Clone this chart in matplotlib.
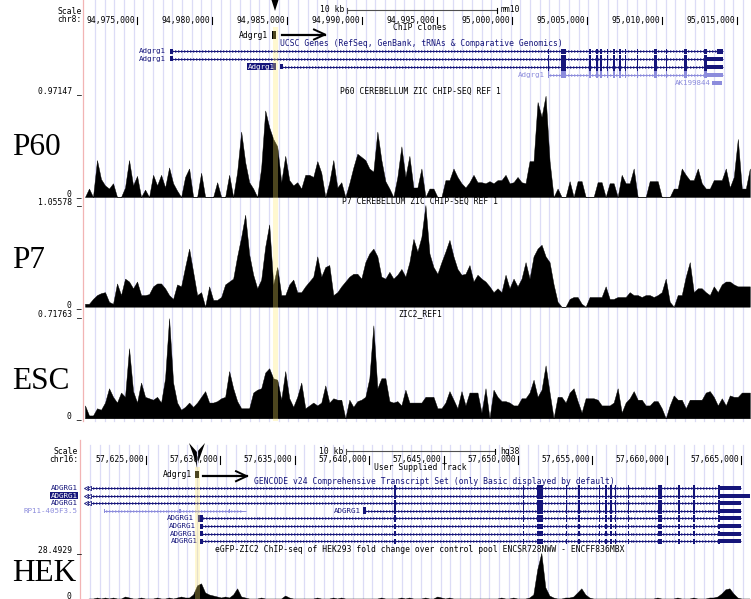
import numpy as np
import matplotlib
matplotlib.use("Agg")
import matplotlib.pyplot as plt
from matplotlib.patches import Polygon, Rectangle

# ---------------- data ----------------
mm10_view = (94971400, 95015933)
hg38_view = (57620766, 57665659)

mm10_ticks = [94975000, 94980000, 94985000, 94990000, 94995000,
              95000000, 95005000, 95010000, 95015000]
hg38_ticks = [57625000, 57630000, 57635000, 57640000, 57645000,
              57650000, 57655000, 57660000, 57665000]

mm10_bin_start, mm10_bin_bp = 94971533, 267
hg38_bin_start, hg38_bin_bp = 57620901, 269

track_names = ["P60", "P7", "ESC", "HEK"]
track_titles = ["P60 CEREBELLUM ZIC CHIP-SEQ REF 1",
                "P7 CEREBELLUM ZIC CHIP-SEQ REF 1",
                "ZIC2_REF1",
                "eGFP-ZIC2 ChIP-seq of HEK293 fold change over control pool ENCSR728NWW - ENCFF836MBX"]
track_max = [0.97147, 1.05578, 0.71763, 28.4929]
track_max_labels = ["0.97147", "1.05578", "0.71763", "28.4929"]

p60_signal = [0, 0.08, 0, 0.35, 0.17, 0.11, 0.08, 0.13, 0, 0,
              0.09, 0.35, 0.11, 0.20, 0, 0.07, 0, 0.21, 0.11, 0.21,
              0.09, 0.28, 0.13, 0.06, 0, 0.19, 0.27, 0, 0, 0.23,
              0, 0, 0, 0.14, 0, 0, 0.21, 0, 0.24, 0.62,
              0.33, 0.14, 0.08, 0, 0.28, 0.82, 0.66, 0.55, 0.48, 0.14,
              0.39, 0.16, 0.11, 0.14, 0.08, 0.21, 0.21, 0.19, 0.34, 0.23,
              0, 0.14, 0.35, 0.09, 0.14, 0, 0.13, 0.28, 0.41, 0.38,
              0.35, 0.27, 0.24, 0.62, 0.35, 0.15, 0.08, 0, 0.19, 0.48,
              0.19, 0.39, 0.09, 0.09, 0.27, 0, 0.08, 0.08, 0, 0,
              0.16, 0.16, 0.27, 0.19, 0.13, 0.09, 0.14, 0.21, 0.14, 0.14,
              0.13, 0.15, 0.13, 0.16, 0.16, 0.21, 0.13, 0.14, 0.19, 0.14,
              0.13, 0.34, 0.34, 0.90, 0.76, 0.96, 0.34, 0, 0.08, 0,
              0, 0.15, 0, 0.15, 0.15, 0, 0, 0, 0.14, 0.14,
              0, 0.13, 0.13, 0, 0.21, 0.13, 0.13, 0.27, 0, 0,
              0, 0.15, 0.15, 0.15, 0, 0, 0, 0.08, 0.08, 0.27,
              0.21, 0.16, 0.16, 0.27, 0.13, 0.08, 0.08, 0.16, 0.16, 0.16,
              0.27, 0.09, 0.19, 0.55, 0.08, 0.08, 0.27]

p7_signal = [0.03, 0.03, 0.08, 0.12, 0.14, 0.15, 0.05, 0.03, 0.24, 0.12,
             0.29, 0.26, 0.19, 0.26, 0.12, 0.12, 0.13, 0.21, 0.24, 0.24,
             0.19, 0.12, 0.08, 0.23, 0.21, 0.41, 0.60, 0.36, 0.12, 0.15,
             0, 0.21, 0.07, 0.07, 0.10, 0.23, 0.26, 0.29, 0.52, 0.72,
             0.95, 0.54, 0.33, 0.19, 0.28, 0.62, 0.85, 0.23, 0.41, 0.12,
             0.12, 0.23, 0.28, 0.15, 0.15, 0.21, 0.26, 0.31, 0.52, 0.31,
             0.41, 0.43, 0.12, 0.15, 0.21, 0.26, 0.31, 0.34, 0.34, 0.29,
             0.46, 0.55, 0.60, 0.52, 0.31, 0.29, 0.36, 0.29, 0.33, 0.39,
             0.31, 0.46, 0.70, 0.57, 0.72, 1.05, 0.55, 0.41, 0.34, 0.46,
             0.57, 0.69, 0.52, 0.39, 0.33, 0.34, 0.43, 0.26, 0.33, 0.29,
             0.26, 0.21, 0.15, 0.19, 0.15, 0.33, 0.19, 0.29, 0.21, 0.29,
             0.46, 0.29, 0.52, 0.60, 0.64, 0.52, 0.46, 0.23, 0.05, 0,
             0, 0.08, 0.10, 0.10, 0.03, 0, 0.10, 0.10, 0.10, 0.10,
             0.21, 0.08, 0.08, 0.10, 0.10, 0.10, 0.15, 0.12, 0.12, 0.10,
             0.12, 0.12, 0.10, 0.12, 0.15, 0.29, 0.05, 0, 0.12, 0.12,
             0.31, 0.46, 0.15, 0.19, 0.19, 0.15, 0.12, 0.21, 0.15, 0.23,
             0.26, 0.26, 0.23, 0.21, 0.21, 0.21, 0.21]

esc_signal = [0.09, 0.02, 0.02, 0.07, 0.06, 0.11, 0.21, 0.15, 0.11, 0.18,
              0.15, 0.49, 0.19, 0.11, 0.25, 0.15, 0.14, 0.13, 0.15, 0.11,
              0.28, 0.70, 0.25, 0.11, 0.06, 0.08, 0.11, 0.08, 0.11, 0.15,
              0.19, 0.11, 0.11, 0.12, 0.14, 0.15, 0.33, 0.21, 0.12, 0.07,
              0.07, 0.07, 0.18, 0.20, 0.21, 0.32, 0.35, 0.28, 0.27, 0.13,
              0.33, 0.14, 0.08, 0.15, 0.25, 0.07, 0.09, 0.11, 0.09, 0.11,
              0.23, 0.11, 0.14, 0.13, 0.13, 0, 0.13, 0.08, 0.12, 0.13,
              0.15, 0.28, 0.65, 0.21, 0.28, 0.28, 0.12, 0.11, 0.12, 0.09,
              0.20, 0.11, 0.11, 0.11, 0.11, 0.15, 0.15, 0.15, 0.07, 0.07,
              0.11, 0.19, 0.13, 0.07, 0.19, 0.09, 0.18, 0.18, 0.18, 0.04,
              0.21, 0, 0.20, 0.15, 0.12, 0.12, 0.11, 0.09, 0.09, 0.14,
              0.14, 0.18, 0.27, 0.15, 0.20, 0.37, 0.18, 0, 0.15, 0.15,
              0.11, 0.18, 0.21, 0.12, 0.04, 0.14, 0.14, 0.14, 0.13, 0.09,
              0.09, 0.09, 0.11, 0.21, 0.04, 0.11, 0.14, 0.19, 0.13, 0.13,
              0.09, 0.09, 0.12, 0.12, 0.07, 0, 0.09, 0.16, 0.13, 0.13,
              0.07, 0.13, 0.13, 0.13, 0.13, 0.18, 0.19, 0.15, 0.09, 0.14,
              0.09, 0.16, 0.15, 0.15, 0.18, 0.18, 0.18]

hek_signal = [0, 0.6, 0.6, 1.2, 0.6, 1.2, 0.6, 1.2, 0.6, 0.6,
              1.8, 1.2, 0.6, 0.6, 1.2, 0.6, 0.6, 0.6, 1.2, 0.6,
              0.6, 1.2, 0.6, 1.2, 1.8, 1.2, 1.2, 3.0, 8.5, 9.7,
              4.2, 3.0, 2.4, 1.8, 1.2, 1.8, 1.2, 3.0, 6.7, 1.8,
              1.2, 0.6, 0.6, 0.6, 1.2, 0.6, 0.6, 0.6, 0.6, 0.6,
              2.4, 1.2, 0.6, 0.6, 0.6, 0.6, 0.6, 0.6, 1.2, 0.6,
              0.6, 0.6, 1.2, 0.6, 1.2, 0.6, 0.6, 0.6, 0.6, 0.6,
              0.6, 0.6, 0.6, 0.6, 1.2, 0.6, 0.6, 0.6, 0.6, 1.2,
              0.6, 1.2, 0.6, 0.6, 0.6, 1.2, 0.6, 0.6, 1.8, 1.2,
              0.6, 1.2, 0.6, 0.6, 0.6, 0.6, 0.6, 0.6, 0.6, 0.6,
              0.6, 0.6, 0.6, 0.6, 1.2, 0.6, 0.6, 1.2, 0.6, 0.6,
              0.6, 1.2, 3.0, 18.2, 27.9, 7.3, 2.4, 1.2, 0.6, 0.6,
              1.2, 1.2, 1.8, 4.2, 6.7, 3.0, 1.2, 0.6, 0.6, 0.6,
              0.6, 0.6, 0.6, 0.6, 0.6, 0.6, 0.6, 0.6, 0.6, 0.6,
              0.6, 0.6, 0.6, 1.2, 0.6, 0.6, 0.6, 0.6, 1.2, 0.6,
              0.6, 0.6, 1.2, 0.6, 0.6, 0.6, 1.2, 1.2, 1.8, 3.6,
              6.1, 6.7, 3.6, 1.2, 0.6, 0.6, 0.6]

# gene models (genomic coordinates)
mm10_exons = [(95002380, 95002480), (95003247, 95003580), (95005150, 95005250),
              (95005600, 95005700), (95005880, 95005980), (95006300, 95006400),
              (95006750, 95006850), (95007150, 95007250), (95007530, 95007630),
              (95008300, 95008400), (95009467, 95009687), (95010263, 95010363),
              (95011467, 95011687), (95012800, 95012980)]
mm10_utr = (95012980, 95014087)
mm10_row1_last = (95013647, 95014087)
mm10_highlight = (94984047, 94984380)
mm10_chip = (94983990, 94984260)
ak199844 = (95013333, 95014000)

hg38_exons = [(57641700, 57641780), (57650320, 57650400), (57651255, 57651658),
              (57653230, 57653310), (57654060, 57654140), (57655420, 57655500),
              (57655870, 57655950), (57656210, 57656290), (57656520, 57656600),
              (57657370, 57657450), (57659427, 57659695), (57660780, 57660860),
              (57661738, 57661893), (57663459, 57663600)]
hg38_utr = (57663600, 57664964)
hg38_utr_long = (57663600, 57665589)
hg38_highlight = (57628293, 57628629)
hg38_chip = (57628293, 57628562)
rp11_span = (57622178, 57631720)
rp11_exons = [(57622178, 57622260), (57627245, 57627325), (57630560, 57630640)]

# ---------------- figure ----------------
W, H = 751, 599
fig = plt.figure(figsize=(W / 100, H / 100), dpi=100)
fig.patch.set_facecolor("white")

MONO = "DejaVu Sans Mono"
FS = 5.8
FS_ROW = 5.4
NAVY = "#15157a"
LIGHT = "#8c8cdc"
GUIDE = "#dcdcf6"


def px_axes(x0, y0, x1, y1, z):
    ax = fig.add_axes([x0 / W, 1 - y1 / H, (x1 - x0) / W, (y1 - y0) / H], zorder=z)
    ax.set_axis_off()
    return ax


ov = px_axes(0, 0, W, H, 0)
ov.set_xlim(0, W)
ov.set_ylim(H, 0)

# guidelines
for gx in np.arange(95, 751, 9.67):
    ov.plot([gx, gx], [0, 421], color=GUIDE, lw=0.9)
for gx in np.arange(90, 751, 9.74):
    ov.plot([gx, gx], [445, 599], color=GUIDE, lw=0.9)
ov.plot([83, 83], [0, 421], color="#f2b4b4", lw=0.9)
ov.plot([80, 80], [440, 599], color="#f2b4b4", lw=0.9)


def txt(ax, x, y, s, ha="left", color="black", size=FS, **kw):
    ax.text(x, y, s, ha=ha, va="center", color=color, fontsize=size,
            family=MONO, **kw)


# header texts
txt(ov, 82, 11, "Scale", ha="right")
txt(ov, 82, 20, "chr8:", ha="right")
txt(ov, 78, 451, "Scale", ha="right")
txt(ov, 78, 459.5, "chr16:", ha="right")
txt(ov, 420, 28, "ChIP clones", ha="center")
txt(ov, 420, 467, "User Supplied Track", ha="center")
txt(ov, 280, 43, "UCSC Genes (RefSeq, GenBank, tRNAs & Comparative Genomics)", color=NAVY)
txt(ov, 254, 481, "GENCODE v24 Comprehensive Transcript Set (only Basic displayed by default)", color=NAVY)

# arrowheads marking the promoter
ov.add_patch(Polygon([(271.5, 0), (278.5, 0), (275, 11)], closed=True, fc="black", ec="none"))
ov.add_patch(Polygon([(189, 443), (197, 452), (205, 443), (198.6, 461), (197, 468), (195.4, 461)],
                     closed=True, fc="black", ec="none"))

# ---------------- signal tracks ----------------
track_data = [p60_signal, p7_signal, esc_signal, hek_signal]
track_pix = [(94.5, 197), (204.5, 306.7), (315.7, 418.3), (552, 599.5)]
track_lbl_y = [(91, 193.5), (201.7, 304.3), (313.3, 416), (549.3, 596)]
big_label_y = [155, 268, 389, 581]

for i, vals in enumerate(track_data):
    y0, y1 = track_pix[i]
    ax = px_axes(83, y0, 751, y1, 2)
    if i < 3:
        pos = mm10_bin_start + mm10_bin_bp * np.arange(len(vals))
        ax.set_xlim(*mm10_view)
    else:
        pos = hg38_bin_start + hg38_bin_bp * np.arange(len(vals))
        ax.set_xlim(*hg38_view)
    ax.fill_between(pos, vals, 0, color="black", lw=0.3, edgecolor="black")
    ax.set_ylim(0, track_max[i])
    ty, zy = track_lbl_y[i]
    txt(ov, 82, ty, track_max_labels[i] + " _", ha="right")
    txt(ov, 82, zy, "0 _", ha="right")
    txt(ov, 420, ty, track_titles[i], ha="center")
    ov.text(12, big_label_y[i], track_names[i], ha="left", va="baseline",
            fontsize=22.5, family="Liberation Serif", color="black")

# ---------------- top panel (mm10) ----------------
pt = px_axes(83, 0, 751, 421, 3)
pt.set_xlim(*mm10_view)
pt.set_ylim(421, 0)

for t in mm10_ticks:
    pt.text(t - 140, 20, f"{t:,}", ha="right", va="center", fontsize=FS, family=MONO)
    pt.plot([t, t], [16.5, 24], color="black", lw=0.8)
pt.plot([94989000, 94999000], [10, 10], color="#505050", lw=0.8)
pt.plot([94989000, 94989000], [7.5, 12.5], color="#505050", lw=0.8)
pt.plot([94999000, 94999000], [7.5, 12.5], color="black", lw=0.8)
pt.text(94989000 - 200, 10, "10 kb", ha="right", va="center", fontsize=FS, family=MONO)
pt.text(94999000 + 250, 10, "mm10", ha="left", va="center", fontsize=FS, family=MONO)

# ChIP clone box + arrow
pt.add_patch(Rectangle((mm10_chip[0], 31), mm10_chip[1] - mm10_chip[0], 8, fc="black", lw=0))
pt.text(mm10_chip[0] - 250, 35, "Adgrg1", ha="right", va="center", fontsize=FS, family=MONO)
pt.plot([94984667, 94987533], [34.5, 34.5], color="black", lw=1.6)
pt.plot([94986800, 94987533, 94986800], [29.5, 34.5, 39.5], color="black", lw=1.4)


def gene(ax, y, start, end, exons, color, h, utr=None, utr_h=4, step=200, ms=2.0):
    ax.plot([start, end], [y, y], color=color, lw=0.7, solid_capstyle="butt")
    xs = np.arange(start + step, end - step, step)
    ax.plot(xs, np.full(len(xs), y), ls="none", marker=">", ms=ms, mew=0, color=color)
    for a, b in exons:
        if a >= start - 50 and b <= end + 50:
            ax.add_patch(Rectangle((a, y - h / 2), b - a, h, fc=color, lw=0))
    if utr is not None:
        ax.add_patch(Rectangle((utr[0], y - utr_h / 2), utr[1] - utr[0], utr_h, fc=color, lw=0))


# row 1
gene(pt, 51, 94977200, 95014087, [(94977200, 94977400)] + mm10_exons + [mm10_row1_last], NAVY, 5)
# row 2
gene(pt, 58.5, 94977200, 95014087, mm10_exons, NAVY, 8, utr=mm10_utr)
pt.add_patch(Rectangle((94977200, 56), 200, 5, fc=NAVY, lw=0))
# row 3
gene(pt, 66.5, 94984533, 95014087, mm10_exons, NAVY, 8, utr=mm10_utr)
pt.add_patch(Rectangle((94984533, 64), 200, 5, fc=NAVY, lw=0))
# row 4 (light)
gene(pt, 74.5, 95002400, 95014087, mm10_exons, LIGHT, 7, utr=mm10_utr)
pt.add_patch(Rectangle((ak199844[0], 83.3 - 2), ak199844[1] - ak199844[0], 4, fc=LIGHT, lw=0))

txt(ov, 166, 51, "Adgrg1", ha="right", color=NAVY, size=FS_ROW)
txt(ov, 166, 58.5, "Adgrg1", ha="right", color=NAVY, size=FS_ROW)
txt(ov, 275, 66.5, "Adgrg1", ha="right", color="white", size=FS_ROW,
    bbox=dict(boxstyle="square,pad=0.12", fc=NAVY, ec="none"))
txt(ov, 545, 74.5, "Adgrg1", ha="right", color=LIGHT, size=FS_ROW)
txt(ov, 711, 83.3, "AK199844", ha="right", color=LIGHT, size=FS_ROW)

pt.add_patch(Rectangle((mm10_highlight[0], 27), mm10_highlight[1] - mm10_highlight[0], 394,
                       fc="#ffe866", alpha=0.3, lw=0, zorder=10))

# ---------------- bottom panel (hg38) ----------------
pb = px_axes(83, 425, 751, 599, 3)
pb.set_xlim(*hg38_view)
pb.set_ylim(599, 425)

for t in hg38_ticks:
    pb.text(t - 140, 459.5, f"{t:,}", ha="right", va="center", fontsize=FS, family=MONO)
    pb.plot([t, t], [455.5, 463.5], color="black", lw=0.8)
pb.plot([57638440, 57648440], [451, 451], color="#505050", lw=0.8)
pb.plot([57638440, 57638440], [448.5, 453.5], color="#505050", lw=0.8)
pb.plot([57648440, 57648440], [448.5, 453.5], color="black", lw=0.8)
pb.text(57638440 - 200, 451, "10 kb", ha="right", va="center", fontsize=FS, family=MONO)
pb.text(57648440 + 350, 451, "hg38", ha="left", va="center", fontsize=FS, family=MONO)

pb.add_patch(Rectangle((hg38_chip[0], 470.5), hg38_chip[1] - hg38_chip[0], 7.5, fc="black", lw=0))
pb.text(hg38_chip[0] - 200, 474.3, "Adgrg1", ha="right", va="center", fontsize=FS, family=MONO)
pb.plot([57628851, 57631767], [475.7, 475.7], color="black", lw=1.6)
pb.plot([57631048, 57631767, 57631048], [471.2, 476.2, 481.2], color="black", lw=1.4)

rows_y = [488, 495.7, 503.3, 510.7, 518.3, 526, 533.7, 541.3]
for k in range(3):
    gene(pb, rows_y[k], 57620901, 57664964, hg38_exons, NAVY, 7,
         utr=hg38_utr_long if k == 1 else hg38_utr)
    pb.plot([57621000, 57621150], [rows_y[k]] * 2, ls="none", marker="<", ms=3,
            mfc="white", mec=NAVY, mew=0.6)
gene(pb, rows_y[3], rp11_span[0], rp11_span[1], rp11_exons, LIGHT, 4)
gene(pb, rows_y[3], 57639603, 57664964, [(57639603, 57639800)] + hg38_exons, NAVY, 7, utr=hg38_utr)
for k in range(4, 8):
    st = 57628494 if k == 4 else 57628629
    gene(pb, rows_y[k], st, 57664964, [(st, 57628830)] + hg38_exons, NAVY, 7 if k == 4 else 5,
         utr=hg38_utr)

txt(ov, 77.5, rows_y[0], "ADGRG1", ha="right", color=NAVY, size=FS_ROW)
txt(ov, 77.5, rows_y[1], "ADGRG1", ha="right", color="white", size=FS_ROW,
    bbox=dict(boxstyle="square,pad=0.1", fc=NAVY, ec="none"))
txt(ov, 77.5, rows_y[2], "ADGRG1", ha="right", color=NAVY, size=FS_ROW)
txt(ov, 77.5, rows_y[3], "RP11-405F3.5", ha="right", color=LIGHT, size=FS_ROW)
txt(ov, 361, rows_y[3], "ADGRG1", ha="right", color=NAVY, size=FS_ROW)
for k, xr in zip(range(4, 8), [193.5, 196, 196.5, 197.5]):
    txt(ov, xr, rows_y[k], "ADGRG1", ha="right", color=NAVY, size=FS_ROW)

pb.add_patch(Rectangle((hg38_highlight[0], 467), hg38_highlight[1] - hg38_highlight[0], 140,
                       fc="#ffe866", alpha=0.3, lw=0, zorder=10))

fig.savefig("out.png", dpi=100, facecolor="white")
